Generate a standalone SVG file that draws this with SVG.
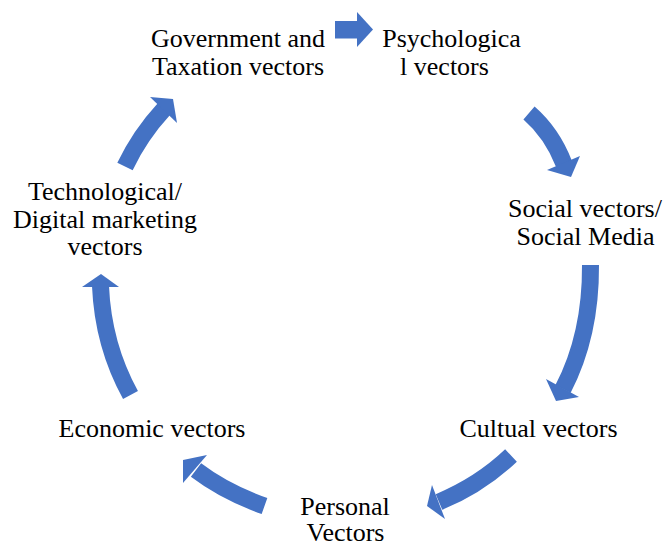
<svg xmlns="http://www.w3.org/2000/svg" width="665" height="545" viewBox="0 0 665 545">
<style>
.t{font-family:"Liberation Serif","Times New Roman",serif;font-size:26px;fill:#000;text-anchor:middle}
.s{fill:none;stroke:#4472C4;stroke-width:17}
.h{fill:#4472C4}
</style>
<rect width="665" height="545" fill="#fff"/>
<g id="connectors">
<g id="a1"><rect x="335" y="21" width="24" height="17.5" class="h"/><polygon class="h" points="357,12 373,29.5 357,47"/></g>
<g id="a2"><path class="s" d="M529,113 Q552,133 564,164"/><polygon class="h" points="547,170 580,156 571,177"/></g>
<g id="a3"><path class="s" d="M590.5,265 Q591,335 563,389"/><polygon class="h" points="546,379 579,397 556,401"/></g>
<g id="a4"><path class="s" d="M511,455.5 Q480,485 439,502"/><polygon class="h" points="432,485 445,519 427,506"/></g>
<g id="a5"><path class="s" d="M264.5,506 Q225,492 196,470"/><polygon class="h" points="207,455 183,483 183,460"/></g>
<g id="a6"><path class="s" d="M130.5,395 Q103,345 100.5,286"/><polygon class="h" points="82,287 119,287 101,274"/></g>
<g id="a7"><path class="s" d="M125,166.5 Q140,135 164,109"/><polygon class="h" points="150,97 177,123 173,99"/></g>
</g>
<g id="n1"><text class="t" x="238" y="47">Government and</text><text class="t" x="238" y="75">Taxation vectors</text></g>
<g id="n2"><text class="t" x="451.5" y="47">Psychologica</text><text class="t" x="444.5" y="75">l vectors</text></g>
<g id="n3"><text class="t" x="585" y="217">Social vectors/</text><text class="t" x="585.5" y="245">Social Media</text></g>
<g id="n4"><text class="t" x="538.5" y="437">Cultual vectors</text></g>
<g id="n5"><text class="t" x="345" y="515">Personal</text><text class="t" x="345.5" y="541">Vectors</text></g>
<g id="n6"><text class="t" x="152" y="437">Economic vectors</text></g>
<g id="n7"><text class="t" x="105" y="200">Technological/</text><text class="t" x="105" y="228">Digital marketing</text><text class="t" x="105" y="255">vectors</text></g>
</svg>
